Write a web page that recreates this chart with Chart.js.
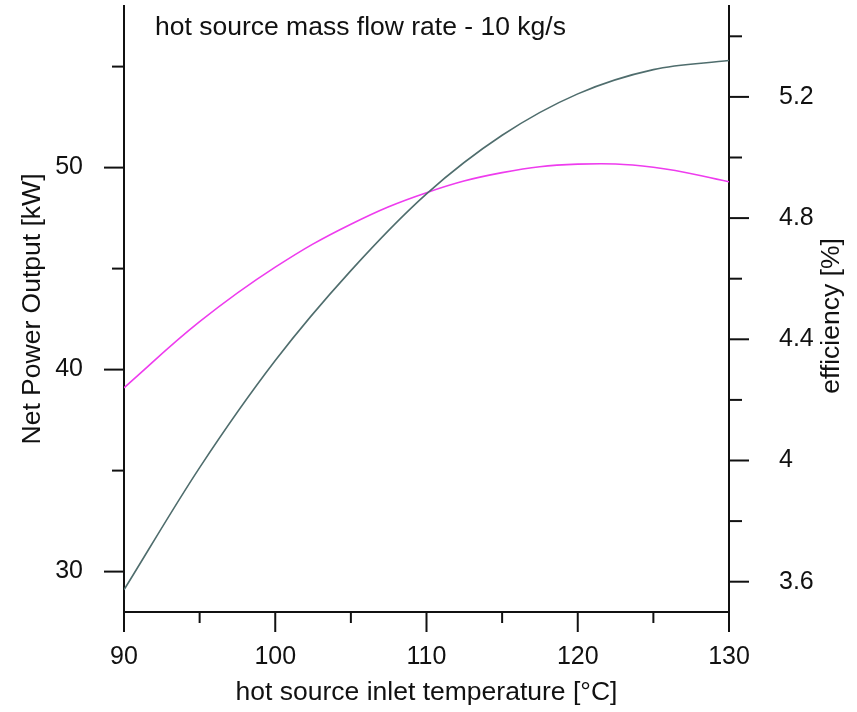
<!DOCTYPE html>
<html>
<head>
<meta charset="utf-8">
<script src="https://cdn.jsdelivr.net/npm/chart.js@4.4.1/dist/chart.umd.min.js"></script>
<style>
  html, body { margin: 0; padding: 0; background: #fff; }
  #wrap { width: 857px; height: 712px; }
</style>
</head>
<body>
<div id="wrap"><canvas id="chart" width="857" height="712"></canvas></div>
<script>
// hot source inlet temperature [°C]
const temperatures = [90, 95, 100, 105, 110, 115, 120, 125, 130];
// net power output [kW] - left axis
const netPower = [29.1, 35.15, 40.45, 44.9, 48.7, 51.6, 53.65, 54.85, 55.3];
// efficiency [%] - right axis
const efficiency = [4.24, 4.458, 4.638, 4.78, 4.884, 4.95, 4.978, 4.968, 4.92];

// tick values (labelled + minor)
const xLabelTicks = [90, 100, 110, 120, 130];
const xMinorTicks = [95, 105, 115, 125];
const powerLabelTicks = [30, 40, 50];
const powerMinorTicks = [35, 45, 55];
const effLabelTicks = [3.6, 4.0, 4.4, 4.8, 5.2];
const effMinorTicks = [3.8, 4.2, 4.6, 5.0, 5.4];

const chartTitle = 'hot source mass flow rate - 10 kg/s';
const xTitle = 'hot source inlet temperature [°C]';
const powerTitle = 'Net Power Output [kW]';
const effTitle = 'efficiency [%]';

const FONT = '"Liberation Sans", Arial, sans-serif';
const INK = '#111';

Chart.defaults.font.family = FONT;
Chart.defaults.color = INK;

// major/minor tick marks, inner title and right axis title
const axisDecor = {
  id: 'axisDecor',
  afterDraw(chart) {
    const { ctx, chartArea, scales } = chart;
    const line = (x1, y1, x2, y2) => {
      ctx.beginPath();
      ctx.moveTo(x1, y1);
      ctx.lineTo(x2, y2);
      ctx.stroke();
    };
    ctx.save();
    ctx.strokeStyle = INK;
    ctx.lineWidth = 2;

    xLabelTicks.forEach(v => {
      const px = scales.x.getPixelForValue(v);
      line(px, chartArea.bottom, px, chartArea.bottom + 20);
    });
    xMinorTicks.forEach(v => {
      const px = scales.x.getPixelForValue(v);
      line(px, chartArea.bottom, px, chartArea.bottom + 11);
    });
    powerLabelTicks.forEach(v => {
      const py = scales.y.getPixelForValue(v);
      line(chartArea.left - 20, py, chartArea.left, py);
    });
    powerMinorTicks.forEach(v => {
      const py = scales.y.getPixelForValue(v);
      line(chartArea.left - 12, py, chartArea.left, py);
    });
    effLabelTicks.forEach(v => {
      const py = scales.y1.getPixelForValue(v);
      line(chartArea.right, py, chartArea.right + 20, py);
    });
    effMinorTicks.forEach(v => {
      const py = scales.y1.getPixelForValue(v);
      line(chartArea.right, py, chartArea.right + 13, py);
    });

    ctx.fillStyle = INK;
    ctx.font = '26.5px ' + FONT;
    ctx.textAlign = 'left';
    ctx.textBaseline = 'alphabetic';
    ctx.fillText(chartTitle, chartArea.left + 31, chartArea.top + 29);

    // efficiency title reads bottom to top
    ctx.translate(chartArea.right + 103, 316);
    ctx.rotate(-Math.PI / 2);
    ctx.textAlign = 'center';
    ctx.textBaseline = 'middle';
    ctx.fillText(effTitle, 0, 0);
    ctx.restore();
  }
};

const fitBox = (size, horizontal) => scale => {
  if (horizontal) scale.height = size; else scale.width = size;
  scale.paddingTop = scale.paddingBottom = scale.paddingLeft = scale.paddingRight = 0;
};

new Chart(document.getElementById('chart').getContext('2d'), {
  type: 'line',
  data: {
    datasets: [
      {
        label: powerTitle,
        data: temperatures.map((t, i) => ({ x: t, y: netPower[i] })),
        yAxisID: 'y',
        borderColor: '#4f6d6d',
        borderWidth: 1.6,
        pointRadius: 0,
        cubicInterpolationMode: 'monotone',
        fill: false
      },
      {
        label: effTitle,
        data: temperatures.map((t, i) => ({ x: t, y: efficiency[i] })),
        yAxisID: 'y1',
        borderColor: '#ee3cee',
        borderWidth: 1.6,
        pointRadius: 0,
        tension: 0.4,
        fill: false
      }
    ]
  },
  options: {
    responsive: false,
    animation: false,
    devicePixelRatio: 1,
    layout: { padding: { top: 6, left: 0, right: 0, bottom: 0 } },
    plugins: { legend: { display: false }, tooltip: { enabled: false }, title: { display: false } },
    scales: {
      x: {
        type: 'linear',
        min: 90,
        max: 130,
        afterBuildTicks: s => { s.ticks = xLabelTicks.map(v => ({ value: v })); },
        afterFit: fitBox(100, true),
        grid: { drawOnChartArea: false, drawTicks: false },
        border: { display: true, color: INK, width: 2 },
        ticks: { padding: 30, color: INK, font: { size: 25 }, maxRotation: 0, autoSkip: false },
        title: { display: true, text: xTitle, color: INK, font: { size: 26.5 }, padding: { top: 0, bottom: 3 } }
      },
      y: {
        type: 'linear',
        position: 'left',
        min: 28,
        max: 58,
        afterBuildTicks: s => { s.ticks = powerLabelTicks.map(v => ({ value: v })); },
        afterFit: fitBox(124, false),
        grid: { drawOnChartArea: false, drawTicks: false },
        border: { display: true, color: INK, width: 2 },
        ticks: { padding: 41, color: INK, font: { size: 25 } },
        title: { display: true, text: powerTitle, color: INK, font: { size: 26.5 }, padding: { top: 17, bottom: 0 } }
      },
      y1: {
        type: 'linear',
        position: 'right',
        min: 3.5,
        max: 5.5,
        afterBuildTicks: s => { s.ticks = effLabelTicks.map(v => ({ value: v })); },
        afterFit: fitBox(128, false),
        grid: { drawOnChartArea: false, drawTicks: false },
        border: { display: true, color: INK, width: 2 },
        ticks: { padding: 50, color: INK, font: { size: 25 }, callback: v => String(Math.round(v * 10) / 10) },
        title: { display: false }
      }
    }
  },
  plugins: [axisDecor]
});
</script>
</body>
</html>
